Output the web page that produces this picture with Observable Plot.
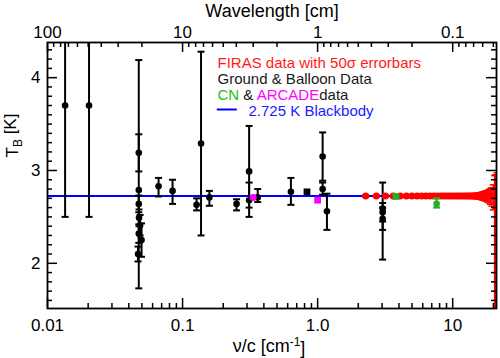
<!DOCTYPE html>
<html><head><meta charset="utf-8">
<script src="https://cdn.jsdelivr.net/npm/d3@7"></script>
<script src="https://cdn.jsdelivr.net/npm/@observablehq/plot@0.6"></script>
<style>body{margin:0;background:#fff} #chart{width:500px;height:358px}</style>
</head><body><div id="chart"></div>
<script>
// ---------- data ----------
// Ground & balloon measurements: frequency nu/c [cm^-1], T [K], lower, upper ends of error bar
const groundNu = [0.0135, 0.0203, 0.0474, 0.0474, 0.0474, 0.0476, 0.0485, 0.0474, 0.0497, 0.0468, 0.0664, 0.0843, 0.127, 0.137, 0.158, 0.251, 0.311, 0.311, 0.36, 0.634, 1.089, 1.089, 1.172, 3.03, 3.03, 3.03];
const groundT  = [3.70, 3.70, 3.19, 2.79, 2.64, 2.49, 2.41, 2.32, 2.25, 2.10, 2.83, 2.78, 2.63, 3.29, 2.71, 2.64, 2.99, 2.68, 2.71, 2.77, 3.15, 2.80, 2.56, 2.59, 2.55, 2.48];
const groundLo = [2.50, 2.50, 2.99, 1.73, 2.55, 2.40, 2.30, 2.22, 2.07, 2.02, 2.72, 2.64, 2.57, 2.30, 2.62, 2.57, 2.50, 2.60, 2.66, 2.63, 2.89, 2.74, 2.36, 2.04, 2.45, 2.36];
const groundHi = [4.90, 4.90, 3.39, 4.19, 2.73, 2.58, 2.52, 2.42, 2.43, 2.18, 2.92, 2.90, 2.70, 4.28, 2.78, 2.69, 3.48, 2.87, 2.80, 2.92, 3.41, 2.87, 2.75, 2.87, 2.65, 2.60];
// ground measurement drawn as a square (no error bar)
const groundSqNu = [0.834];
const groundSqT  = [2.77];
// CN data (green)
const cnSqNu = [3.80];
const cnSqT  = [2.72];
const cnNu = [7.6];
const cnT  = [2.64];
const cnLo = [2.60];
const cnHi = [2.70];
// ARCADE data (magenta)
const arcadeDotNu = [0.333];
const arcadeDotT  = [2.71];
const arcadeSqNu  = [1.0];
const arcadeSqT   = [2.68];
// FIRAS (red), with 50 sigma error bars
const firasNu = [2.27,2.72,3.18,3.63,4.08,4.54,4.99,5.45,5.90,6.35,6.81,7.26,7.71,8.17,8.62,9.08,9.53,9.98,10.44,10.89,11.34,11.80,12.25,12.71,13.16,13.61,14.07,14.52,14.97,15.43,15.88,16.34,16.79,17.24,17.70,18.15,18.61,19.06,19.51,19.97,20.42,20.87,21.33];
const firasT  = [2.725,2.725,2.725,2.725,2.725,2.725,2.725,2.725,2.725,2.725,2.725,2.725,2.725,2.725,2.725,2.725,2.725,2.725,2.725,2.725,2.725,2.725,2.725,2.725,2.725,2.725,2.725,2.725,2.725,2.725,2.725,2.725,2.725,2.725,2.725,2.725,2.725,2.725,2.725,2.725,2.725,2.725,2.725];
const firasErrLo = [0.01,0.01,0.01,0.01,0.01,0.01,0.01,0.01,0.01,0.01,0.01,0.01,0.01,0.01,0.01,0.01,0.01,0.01,0.01,0.015,0.015,0.015,0.02,0.02,0.02,0.02,0.025,0.025,0.03,0.03,0.035,0.04,0.045,0.05,0.055,0.065,0.075,0.09,0.11,0.15,1.25,1.25,1.3];
const firasErrHi = [0.01,0.01,0.01,0.01,0.01,0.01,0.01,0.01,0.01,0.01,0.01,0.01,0.01,0.01,0.01,0.01,0.01,0.01,0.01,0.015,0.015,0.015,0.02,0.02,0.02,0.02,0.025,0.025,0.03,0.03,0.035,0.04,0.045,0.05,0.055,0.06,0.07,0.08,0.09,0.12,0.22,0.23,0.25];
// Blackbody
const blackbodyT = [2.725];
// Axes
const xMajor = [0.01, 0.1, 1, 10];
const xMajorLabels = ["0.01", "0.1", "1.0", "10"];
const xMinor = [0.02,0.03,0.04,0.05,0.06,0.07,0.08,0.09,0.2,0.3,0.4,0.5,0.6,0.7,0.8,0.9,2,3,4,5,6,7,8,9,20];
const wlMajor = [100, 10, 1, 0.1];
const wlMajorLabels = ["100", "10", "1", "0.1"];
const wlMinor = [90,80,70,60,50,40,30,20,9,8,7,6,5,4,3,2,0.9,0.8,0.7,0.6,0.5,0.4,0.3,0.2,0.09,0.08,0.07,0.06,0.05];
const yMajor = [2, 3, 4];
const yMajorLabels = ["2", "3", "4"];
const yMinor = [1.6,1.7,1.8,1.9,2.1,2.2,2.3,2.4,2.5,2.6,2.7,2.8,2.9,3.1,3.2,3.3,3.4,3.5,3.6,3.7,3.8,3.9,4.1,4.2,4.3];
const legendLabels = ["FIRAS data with 50σ errorbars", "Ground & Balloon Data", "CN & ARCADEdata", "2.725 K Blackbody"];
const legendColors = ["#ff1a1a", "#1a1a1a", "#1a1a1a", "#1a1aff"];
const xTitle = "ν/c [cm-1]";
const yTitle = "TB [K]";
const topTitle = "Wavelength [cm]";

// ---------- build ----------
const ground = groundNu.map((nu, i) => ({nu, T: groundT[i], lo: groundLo[i], hi: groundHi[i]}));
const groundSq = groundSqNu.map((nu, i) => ({nu, T: groundSqT[i]}));
const cn = cnNu.map((nu, i) => ({nu, T: cnT[i], lo: cnLo[i], hi: cnHi[i]}));
const cnSq = cnSqNu.map((nu, i) => ({nu, T: cnSqT[i]}));
const arcDot = arcadeDotNu.map((nu, i) => ({nu, T: arcadeDotT[i]}));
const arcSq = arcadeSqNu.map((nu, i) => ({nu, T: arcadeSqT[i]}));
const firas = firasNu.map((nu, i) => ({nu, T: firasT[i], lo: firasT[i] - firasErrLo[i], hi: firasT[i] + firasErrHi[i]}));
const wlMajorNu = wlMajor.map(l => 1 / l);
const wlMinorNu = wlMinor.map(l => 1 / l);

const W = 500, H = 358, mL = 47, mR = 4, mT = 42, mB = 50;
const iw = W - mL - mR, ih = H - mT - mB;
const FONT = "'Liberation Sans', Arial, Helvetica, sans-serif";

const capSym = {draw(ctx, size) { const w = Math.sqrt(size / Math.PI); ctx.moveTo(-w, 0); ctx.lineTo(w, 0); }};

function errorMarks(data, color, capR, sw) {
  return [
    Plot.ruleX(data, {x: "nu", y1: "lo", y2: "hi", stroke: color, strokeWidth: sw, clip: true}),
    Plot.dot(data, {x: "nu", y: "lo", symbol: capSym, r: capR, stroke: color, fill: "none", strokeWidth: sw, clip: true}),
    Plot.dot(data, {x: "nu", y: "hi", symbol: capSym, r: capR, stroke: color, fill: "none", strokeWidth: sw, clip: true})
  ];
}

const legendMarks = legendLabels.map((lab, i) => Plot.text([lab], {
  frameAnchor: "top-left", dx: i === 3 ? 201 : 170, dy: [25, 41, 57.5, 73][i],
  text: d => d, fill: legendColors[i], fontSize: 15, textAnchor: "start", lineAnchor: "bottom"
}));

const chart = Plot.plot({
  width: W, height: H, marginLeft: mL, marginRight: mR, marginTop: mT, marginBottom: mB,
  style: {fontFamily: FONT, fontSize: "17px", background: "white", color: "black"},
  x: {type: "log", domain: [0.01, 21.1], axis: null},
  y: {domain: [1.513, 4.379], axis: null},
  marks: [
    Plot.ruleY(blackbodyT, {y: d => d, stroke: "#0000ff", strokeWidth: 2}),
    ...errorMarks(ground, "black", 3.5, 2),
    Plot.dot(ground, {x: "nu", y: "T", r: 3.3, fill: "black", clip: true}),
    Plot.dot(groundSq, {x: "nu", y: "T", r: 3.8, symbol: "square", fill: "black", clip: true}),
    Plot.dot(arcDot, {x: "nu", y: "T", r: 3.5, fill: "#ff00ff", clip: true}),
    Plot.dot(arcSq, {x: "nu", y: "T", r: 3.8, symbol: "square", fill: "#ff00ff", clip: true}),
    ...errorMarks(firas, "#ff0000", 3.5, 1.5),
    Plot.dot(firas, {x: "nu", y: "T", r: 3.5, fill: "#ff0000", clip: true}),
    Plot.dot(cnSq, {x: "nu", y: "T", r: 3.8, symbol: "square", fill: "#20b020", clip: true}),
    ...errorMarks(cn, "#20b020", 3.5, 2),
    Plot.dot(cn, {x: "nu", y: "T", r: 3.3, fill: "#20b020", clip: true}),
    // inward ticks
    Plot.tickX(xMajor, {x: d => d, insetTop: ih - 10, stroke: "black", strokeWidth: 1.5}),
    Plot.tickX(xMinor, {x: d => d, insetTop: ih - 5, stroke: "black", strokeWidth: 1.5}),
    Plot.tickX(wlMajorNu, {x: d => d, insetBottom: ih - 10, stroke: "black", strokeWidth: 1.5}),
    Plot.tickX(wlMinorNu, {x: d => d, insetBottom: ih - 5, stroke: "black", strokeWidth: 1.5}),
    Plot.tickY(yMajor, {y: d => d, insetRight: iw - 10, stroke: "black", strokeWidth: 1.5}),
    Plot.tickY(yMinor, {y: d => d, insetRight: iw - 5, stroke: "black", strokeWidth: 1.5}),
    Plot.tickY(yMajor, {y: d => d, insetLeft: iw - 10, stroke: "black", strokeWidth: 1.5}),
    Plot.tickY(yMinor, {y: d => d, insetLeft: iw - 5, stroke: "black", strokeWidth: 1.5}),
    // tick labels
    Plot.text(xMajor, {x: d => d, frameAnchor: "bottom", dy: 10, lineAnchor: "top", text: (d, i) => xMajorLabels[i], fontSize: 17, fill: "black"}),
    Plot.text(wlMajorNu, {x: d => d, frameAnchor: "top", dy: -5, lineAnchor: "bottom", text: (d, i) => wlMajorLabels[i], fontSize: 17, fill: "black"}),
    Plot.text(yMajor, {y: d => d, frameAnchor: "left", dx: -7, textAnchor: "end", text: (d, i) => yMajorLabels[i], fontSize: 17, fill: "black"}),
    Plot.frame({stroke: "black", strokeWidth: 1.8}),
    Plot.text([topTitle], {frameAnchor: "top", dy: -26, text: d => d, fontSize: 18, lineAnchor: "bottom"}),
    Plot.text([xTitle], {frameAnchor: "bottom", dx: -3, dy: 43, text: d => d, fontSize: 18, lineAnchor: "bottom"}),
    Plot.text([yTitle], {frameAnchor: "left", dx: -35, dy: -18, text: d => d, fontSize: 17, rotate: -90}),
    ...legendMarks,
    Plot.dot([0], {frameAnchor: "top-left", dx: 179.3, dy: 67, symbol: capSym, r: 10, stroke: "#0000ff", strokeWidth: 2, fill: "none"})
  ]
});
document.getElementById("chart").appendChild(chart);

// rich text: subscripts, superscripts and multi-coloured legend line
d3.select(chart).selectAll("text").each(function() {
  const t = this.textContent;
  const sel = d3.select(this);
  if (t === xTitle) {
    sel.text(null);
    sel.append("tspan").text("ν/c [cm");
    sel.append("tspan").attr("dy", "-0.45em").attr("font-size", "12px").text("-1");
    sel.append("tspan").attr("dy", "0.45em").text("]");
  } else if (t === yTitle) {
    sel.text(null);
    sel.append("tspan").text("T");
    sel.append("tspan").attr("dy", "0.35em").attr("font-size", "12px").text("B");
    sel.append("tspan").attr("dy", "-0.35em").text(" [K]");
  } else if (t === legendLabels[2]) {
    sel.text(null);
    sel.append("tspan").attr("fill", "#20c020").text("CN");
    sel.append("tspan").attr("fill", "#1a1a1a").text(" & ");
    sel.append("tspan").attr("fill", "#ff00ff").text("ARCADE");
    sel.append("tspan").attr("fill", "#1a1a1a").text("data");
  }
});
</script>
</body></html>
